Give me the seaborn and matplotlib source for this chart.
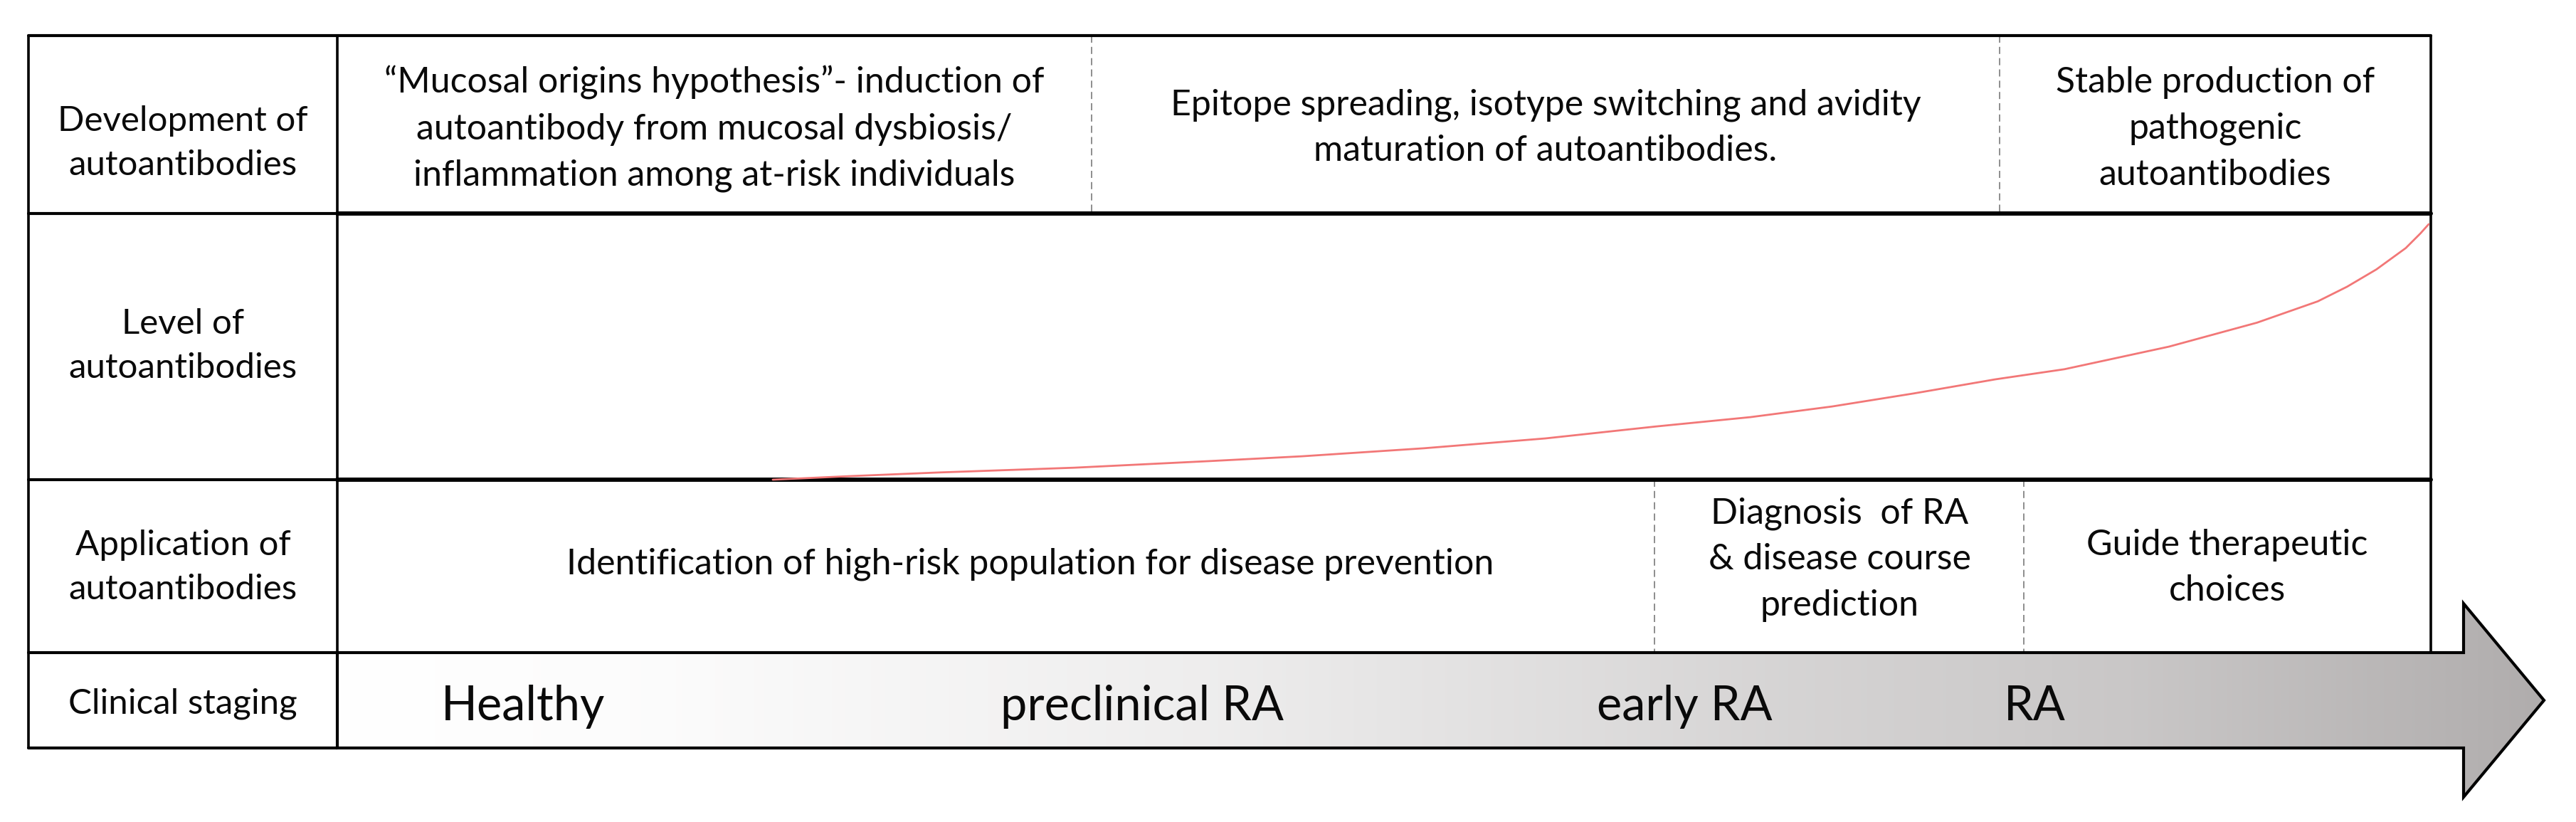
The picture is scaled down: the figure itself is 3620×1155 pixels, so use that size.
import numpy as np
import matplotlib
matplotlib.use("Agg")
import matplotlib.pyplot as plt
import seaborn as sns
from matplotlib.patches import Polygon

sns.set_theme(style="white")
plt.rcParams['font.family'] = ['Lato', 'DejaVu Sans']

# ---------------- data ----------------
row_labels = ["Development of\nautoantibodies",
              "Level of\nautoantibodies",
              "Application of\nautoantibodies",
              "Clinical staging"]
development_texts = ["\u201cMucosal origins hypothesis\u201d- induction of\nautoantibody from mucosal dysbiosis/\ninflammation among at-risk individuals",
                     "Epitope spreading, isotype switching and avidity\nmaturation of autoantibodies.",
                     "Stable production of\npathogenic\nautoantibodies"]
application_texts = ["Identification of high-risk population for disease prevention",
                     "Diagnosis  of RA\n& disease course\nprediction",
                     "Guide therapeutic\nchoices"]
stage_labels = ["Healthy", "preclinical RA", "early RA", "RA"]
# autoantibody level along the timeline (fraction of timeline, relative level)
curve_time = [0.208, 0.244, 0.287, 0.352, 0.417, 0.461, 0.519, 0.577, 0.630,
              0.675, 0.714, 0.753, 0.792, 0.825, 0.875, 0.917, 0.946, 0.960,
              0.974, 0.988, 0.995, 0.999]
curve_level = [0.0, 0.013, 0.027, 0.045, 0.070, 0.088, 0.118, 0.155, 0.200,
               0.235, 0.275, 0.324, 0.377, 0.415, 0.50, 0.59, 0.67, 0.725,
               0.79, 0.87, 0.925, 0.96]

# ---------------- layout ----------------
W, H = 3620, 1155
X0, XC, XR = 40, 474, 3416
ROW_Y = [50, 300, 674, 917, 1051]
DEV_SPLITS = [1534, 2810]
APP_SPLITS = [2325, 2844]
ARROW_NECK, ARROW_TIP = 3462, 3575
HEAD_TOP, HEAD_BOT = 848, 1120
dev_pos = [(1004, 181), (2172, 180), (3113, 181)]
app_pos = [(1448, 793), (2585, 786), (3130, 798)]
label_pos = [(257, 201), (257, 486), (257, 797), (257, 989)]
stage_pos = [(735, 993), (1605, 993), (2367, 993), (2859, 993)]

TXT = "#0a0a0a"
FS = 36
fig = plt.figure(figsize=(W / 100, H / 100), dpi=100)
ax = fig.add_axes([0, 0, 1, 1])
ax.set_xlim(0, W)
ax.set_ylim(H, 0)
ax.axis("off")

# gradient arrow
arrow_pts = [(XC, ROW_Y[3]), (ARROW_NECK, ROW_Y[3]), (ARROW_NECK, HEAD_TOP),
             (ARROW_TIP, (ROW_Y[3] + ROW_Y[4]) / 2), (ARROW_NECK, HEAD_BOT),
             (ARROW_NECK, ROW_Y[4]), (XC, ROW_Y[4])]
clip_poly = Polygon(arrow_pts, closed=True, facecolor="none", edgecolor="none")
ax.add_patch(clip_poly)
xs = np.linspace(XC, ARROW_TIP, 800)
vals = np.interp(xs, [XC, 900, 1700, 2500, 3000, ARROW_TIP],
                 [255, 252, 238, 214, 201, 176]) / 255.0
gb = vals - 0.04 * (1 - vals)
img = np.stack([vals, gb, gb], axis=-1)[None, :, :]
im = ax.imshow(img, extent=[XC, ARROW_TIP, HEAD_BOT, HEAD_TOP], aspect="auto",
               interpolation="bilinear", zorder=1)
im.set_clip_path(clip_poly)
ax.add_patch(Polygon(arrow_pts, closed=True, facecolor="none",
                     edgecolor="black", lw=3.0, zorder=3, joinstyle="miter"))

# table lines
LW = 3.0
ax.plot([X0, XR], [ROW_Y[0], ROW_Y[0]], color="black", lw=LW, zorder=4)
for y in ROW_Y[1:3]:
    ax.plot([X0, XC], [y, y], color="black", lw=LW, zorder=4)
    ax.plot([XC, XR], [y, y], color="black", lw=4.3, zorder=4)
ax.plot([X0, XC], [ROW_Y[3], ROW_Y[3]], color="black", lw=LW, zorder=4)
ax.plot([X0, XC], [ROW_Y[4], ROW_Y[4]], color="black", lw=LW, zorder=4)
ax.plot([X0, X0], [ROW_Y[0], ROW_Y[4]], color="black", lw=2.6, zorder=4)
ax.plot([XC, XC], [ROW_Y[0], ROW_Y[4]], color="black", lw=2.6, zorder=4)
ax.plot([XR, XR], [ROW_Y[0], ROW_Y[3]], color="black", lw=2.6, zorder=4)
for x in DEV_SPLITS:
    ax.plot([x, x], [ROW_Y[0], ROW_Y[1]], color="#7a7a7a", lw=1.2,
            ls=(0, (6, 3.5)), zorder=2)
for x in APP_SPLITS:
    ax.plot([x, x], [ROW_Y[2], ROW_Y[3]], color="#7a7a7a", lw=1.2,
            ls=(0, (6, 3.5)), zorder=2)

# texts
for s, (x, y) in zip(row_labels, label_pos):
    ax.text(x, y, s, ha="center", va="center", fontsize=FS - 0.5, color=TXT,
            linespacing=1.5, zorder=5)
for s, (x, y) in zip(development_texts, dev_pos):
    ax.text(x, y, s, ha="center", va="center", fontsize=FS, color=TXT,
            linespacing=1.5, zorder=5)
for s, (x, y) in zip(application_texts, app_pos):
    ax.text(x, y, s, ha="center", va="center", fontsize=FS, color=TXT,
            linespacing=1.5, zorder=5)
for s, (x, y) in zip(stage_labels, stage_pos):
    ax.text(x, y, s, ha="center", va="center", fontsize=48, color=TXT,
            zorder=5)

# level curve in its own axes spanning the "Level" cell
ax2 = fig.add_axes([XC / W, 1 - ROW_Y[2] / H, (XR - XC) / W,
                    (ROW_Y[2] - ROW_Y[1]) / H])
ax2.set_xlim(0, 1)
ax2.set_ylim(0, 1)
ax2.axis("off")
ax2.patch.set_alpha(0)
sns.lineplot(x=curve_time, y=curve_level, ax=ax2, color="#f27777", lw=2.0,
             sort=True)
for ln in ax2.lines:
    ln.set_clip_on(False)
    ln.set_zorder(3)

fig.savefig("out.png", dpi=100, facecolor="white")
